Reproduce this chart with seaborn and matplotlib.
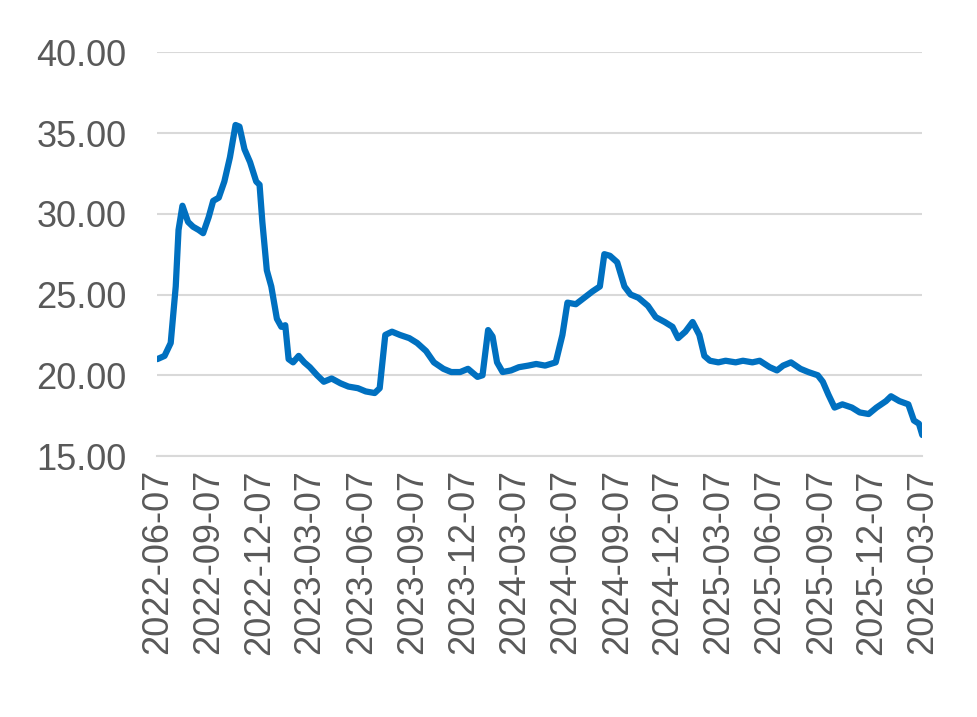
import matplotlib
matplotlib.use("Agg")
import matplotlib.pyplot as plt
import seaborn as sns
import pandas as pd

dates = ["2022-06-07","2022-06-20","2022-07-01","2022-07-10","2022-07-15","2022-07-22","2022-08-01","2022-08-10","2022-08-20","2022-08-28",
"2022-09-07","2022-09-15","2022-09-25","2022-10-05","2022-10-15","2022-10-25","2022-11-01","2022-11-10","2022-11-20","2022-12-01",
"2022-12-07","2022-12-12","2022-12-20","2022-12-28","2023-01-07","2023-01-15","2023-01-22","2023-01-28","2023-02-05","2023-02-15",
"2023-02-25","2023-03-07","2023-03-20","2023-04-01","2023-04-15","2023-05-01","2023-05-15","2023-06-01","2023-06-15","2023-07-01",
"2023-07-10","2023-07-20","2023-08-01","2023-08-15","2023-09-01","2023-09-15","2023-10-01","2023-10-15","2023-11-01","2023-11-15",
"2023-12-01","2023-12-15","2024-01-01","2024-01-10","2024-01-20","2024-01-28","2024-02-05","2024-02-15","2024-03-01","2024-03-15",
"2024-04-01","2024-04-15","2024-05-01","2024-05-20","2024-06-01","2024-06-10","2024-06-25","2024-07-10","2024-07-25","2024-08-07",
"2024-08-15","2024-08-25","2024-09-07","2024-09-20","2024-10-01","2024-10-15","2024-11-01","2024-11-15","2024-12-01","2024-12-15",
"2024-12-25","2025-01-07","2025-01-20","2025-02-01","2025-02-10","2025-02-20","2025-03-07","2025-03-20","2025-04-07","2025-04-20",
"2025-05-07","2025-05-20","2025-06-07","2025-06-20","2025-07-01","2025-07-15","2025-08-01","2025-08-15","2025-09-01","2025-09-10",
"2025-09-20","2025-10-01","2025-10-15","2025-11-01","2025-11-15","2025-12-01","2025-12-15","2026-01-01","2026-01-10","2026-01-25",
"2026-02-10","2026-02-20","2026-03-01","2026-03-07"]
values = [21.0,21.2,22.0,25.5,29.0,30.5,29.5,29.2,29.0,28.8,
29.8,30.8,31.0,32.0,33.5,35.5,35.4,34.0,33.2,32.0,
31.8,29.5,26.5,25.5,23.5,23.0,23.1,21.0,20.8,21.2,
20.8,20.5,20.0,19.6,19.8,19.5,19.3,19.2,19.0,18.9,
19.2,22.5,22.7,22.5,22.3,22.0,21.5,20.8,20.4,20.2,
20.2,20.4,19.9,20.0,22.8,22.4,20.8,20.2,20.3,20.5,
20.6,20.7,20.6,20.8,22.5,24.5,24.4,24.8,25.2,25.5,
27.5,27.4,27.0,25.5,25.0,24.8,24.3,23.6,23.3,23.0,
22.3,22.7,23.3,22.5,21.2,20.9,20.8,20.9,20.8,20.9,
20.8,20.9,20.5,20.3,20.6,20.8,20.4,20.2,20.0,19.6,
18.8,18.0,18.2,18.0,17.7,17.6,18.0,18.4,18.7,18.4,
18.2,17.2,17.0,16.3]
tick_labels = ["2022-06-07","2022-09-07","2022-12-07","2023-03-07","2023-06-07","2023-09-07","2023-12-07",
"2024-03-07","2024-06-07","2024-09-07","2024-12-07","2025-03-07","2025-06-07","2025-09-07","2025-12-07","2026-03-07"]

df = pd.DataFrame({"date": pd.to_datetime(dates), "value": values})
sns.set_style("white")
plt.rcParams["font.family"] = ["Liberation Sans", "DejaVu Sans"]
fig = plt.figure(figsize=(9.77, 7.17), dpi=100)
ax = fig.add_axes([0.161, 0.364, 0.783, 0.563])
sns.lineplot(data=df, x="date", y="value", ax=ax, color="#0070C0", linewidth=4.5)
ax.set_ylim(15, 40)
ax.set_yticks([15, 20, 25, 30, 35, 40])
ax.set_yticklabels([f"{v:.2f}" for v in [15, 20, 25, 30, 35, 40]])
ticks = pd.to_datetime(tick_labels)
ax.set_xlim(ticks[0], ticks[-1])
ax.set_xticks(ticks)
ax.set_xticklabels(tick_labels, rotation=90)
ax.grid(axis="y", color="#D9D9D9", linewidth=1.5)
for s in ["top", "right", "left"]:
    ax.spines[s].set_visible(False)
ax.spines["bottom"].set_color("#D9D9D9")
ax.spines["bottom"].set_linewidth(1.5)
ax.tick_params(axis="both", labelsize=26, colors="#595959", length=0)
ax.tick_params(axis="y", pad=22)
ax.tick_params(axis="x", length=6, color="#D9D9D9", direction="out")
ax.set_xlabel(""); ax.set_ylabel("")
fig.savefig("out.png", dpi=100)
